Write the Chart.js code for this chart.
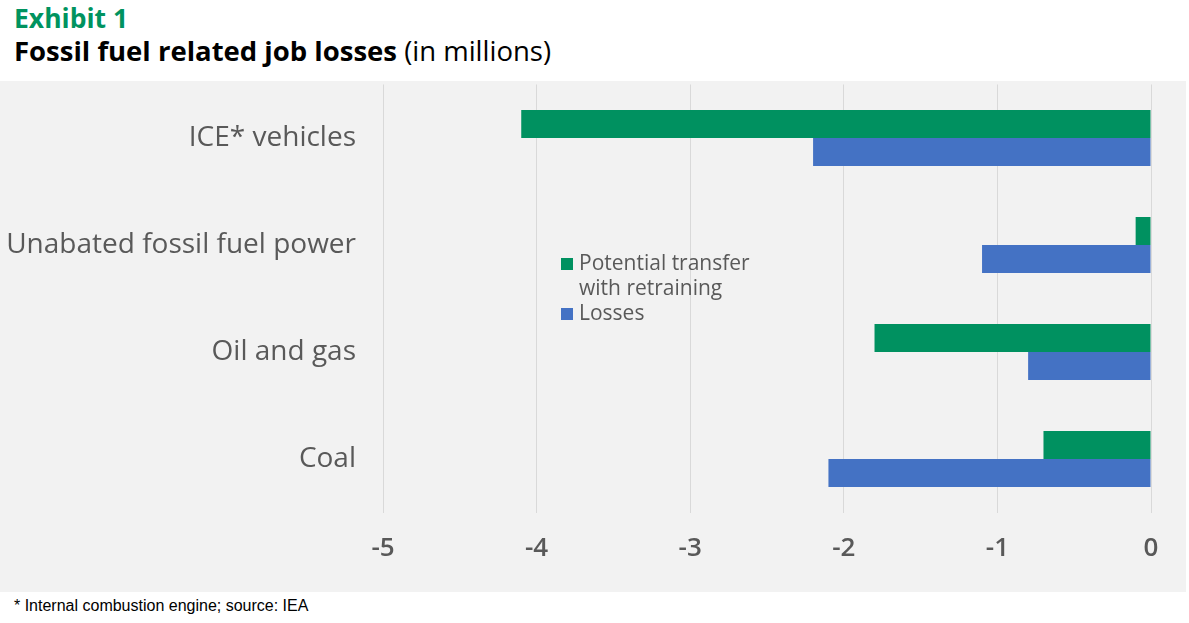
<!DOCTYPE html>
<html>
<head>
<meta charset="utf-8">
<script src="https://cdn.jsdelivr.net/npm/chart.js@4"></script>
<style>
  body { margin: 0; background: #fff; width: 1189px; height: 623px; overflow: hidden; font-family: "Open Sans", sans-serif; }
  #kicker { position: absolute; left: 14px; top: 0px; font: bold 26.5px "Open Sans", sans-serif; color: #00935f; }
  #title { position: absolute; left: 14px; top: 32px; font: bold 27.5px "Open Sans", sans-serif; color: #000; }
  #title span { font-weight: normal; }
  #panel { position: absolute; left: 0; top: 81px; width: 1186px; height: 511px; background: #f2f2f2; }
  #legend { position: absolute; left: 561px; top: 250px; font: 21px "Open Sans", sans-serif; color: #595959; line-height: 25px; }
  #legend .row { position: relative; padding-left: 18px; }
  #legend .sw { position: absolute; left: 0; top: 8px; width: 12px; height: 12px; }
  #note { position: absolute; left: 14px; top: 597px; font: 16px "Liberation Sans Narrow", "Liberation Sans", sans-serif; color: #000; }
</style>
</head>
<body>
<div id="kicker">Exhibit 1</div>
<div id="title">Fossil fuel related job losses <span>(in millions)</span></div>
<div id="panel"><canvas id="grafico" width="1186" height="511"></canvas></div>
<div id="legend">
  <div class="row"><div class="sw" style="background:#009160"></div>Potential transfer<br>with retraining</div>
  <div class="row"><div class="sw" style="background:#4472c4"></div>Losses</div>
</div>
<div id="note">* Internal combustion engine; source: IEA</div>
<script>
const categorias = ["ICE* vehicles", "Unabated fossil fuel power", "Oil and gas", "Coal"];
const transferencia = [-4.1, -0.1, -1.8, -0.7];
const perdidas = [-2.2, -1.1, -0.8, -2.1];

const ctx = document.getElementById("grafico").getContext("2d");
new Chart(ctx, {
  type: "bar",
  data: {
    labels: categorias,
    datasets: [
      { label: "Potential transfer with retraining", data: transferencia, backgroundColor: "#009160" },
      { label: "Losses", data: perdidas, backgroundColor: "#4472c4" },
    ],
  },
  options: {
    indexAxis: "y",
    responsive: false,
    animation: false,
    categoryPercentage: 0.523,
    barPercentage: 1,
    layout: { padding: { top: 3.5, right: 35, left: 0, bottom: 0 } },
    plugins: { legend: { display: false }, tooltip: { enabled: false } },
    scales: {
      x: {
        min: -5,
        max: 0,
        ticks: { stepSize: 1, padding: 20, color: "#595959", font: { family: "Open Sans", size: 26, weight: "600" } },
        grid: { color: "#d9d9d9", drawTicks: false },
        border: { display: false },
        afterFit: (s) => { s.height = 79.5; s.paddingLeft = 0; s.paddingRight = 0; },
      },
      y: {
        ticks: { padding: 27, color: "#595959", font: { family: "Open Sans", size: 28 } },
        grid: { display: false, drawTicks: false },
        border: { display: false },
        afterFit: (s) => { s.width = 383; s.paddingTop = 0; s.paddingBottom = 0; },
      },
    },
  },
});
</script>
</body>
</html>
